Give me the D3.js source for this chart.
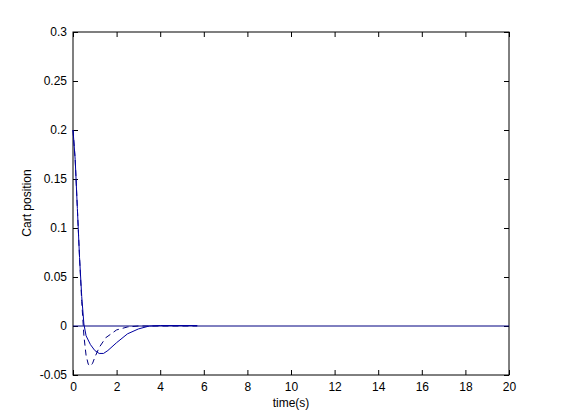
<!DOCTYPE html><html><head><script src="https://cdn.jsdelivr.net/npm/d3@7"></script>
<style>body{margin:0;background:#fff}text{font-family:Arial,"Liberation Sans",sans-serif;font-size:12px}</style></head><body>
<svg id="c" width="561" height="420"></svg>
<script>
const solidT=[0,0.1,0.2,0.3,0.4,0.5,0.6,0.8,1.0,1.2,1.4,1.6,2.0,2.5,3.0,3.5,4.0,5.7];
const solidY=[0.2,0.17,0.12,0.07,0.03,0.002,-0.01,-0.019,-0.025,-0.028,-0.028,-0.025,-0.017,-0.008,-0.003,0,0.0005,0.0005];
const dashT=[0,0.1,0.2,0.3,0.4,0.5,0.6,0.7,0.8,0.9,1.0,1.2,1.5,2.0,2.5,3.0,5.7];
const dashY=[0.2,0.17,0.12,0.07,0.025,-0.01,-0.03,-0.039,-0.041,-0.038,-0.032,-0.022,-0.012,-0.004,-0.001,0,0];
const xTicks=[0,2,4,6,8,10,12,14,16,18,20];
const yTicks=[-0.05,0,0.05,0.1,0.15,0.2,0.25,0.3];
const svg=d3.select("#c");
const x=d3.scaleLinear().domain([0,20]).range([73,509]);
const y=d3.scaleLinear().domain([-0.05,0.3]).range([375,32]);
svg.append("rect").attr("x",73).attr("y",32).attr("width",436).attr("height",343).attr("fill","none").attr("stroke","#000");
const fmt=v=>v===0?"0":String(+v.toFixed(2));
svg.append("g").attr("transform","translate(0,375)").call(d3.axisBottom(x).tickValues(xTicks).tickFormat(fmt).tickSizeInner(-5).tickSizeOuter(0)).call(g=>{g.select(".domain").remove();g.selectAll("text").attr("dy","1.1em").style("font-size","12px");});
svg.append("g").attr("transform","translate(0,32)").call(d3.axisTop(x).tickValues(xTicks).tickFormat("").tickSizeInner(-5).tickSizeOuter(0)).select(".domain").remove();
svg.append("g").attr("transform","translate(73,0)").call(d3.axisLeft(y).tickValues(yTicks).tickFormat(fmt).tickSizeInner(-5).tickSizeOuter(0)).call(g=>{g.select(".domain").remove();g.selectAll("text").attr("x",-6).style("font-size","12px");});
svg.append("g").attr("transform","translate(509,0)").call(d3.axisRight(y).tickValues(yTicks).tickFormat("").tickSizeInner(-5).tickSizeOuter(0)).select(".domain").remove();
svg.append("line").attr("x1",x(0)).attr("x2",x(20)).attr("y1",y(0)).attr("y2",y(0)).attr("stroke","#000080");
const line=d3.line().x(d=>x(d[0])).y(d=>y(d[1]));
svg.append("path").attr("d",line(d3.zip(dashT,dashY))).attr("fill","none").attr("stroke","#000080").attr("stroke-dasharray","6,4");
svg.append("path").attr("d",line(d3.zip(solidT,solidY))).attr("fill","none").attr("stroke","#0000a0");
svg.append("text").attr("x",291).attr("y",407).attr("text-anchor","middle").text("time(s)");
svg.append("text").attr("transform","translate(31,203) rotate(-90)").attr("text-anchor","middle").text("Cart position");
</script></body></html>
